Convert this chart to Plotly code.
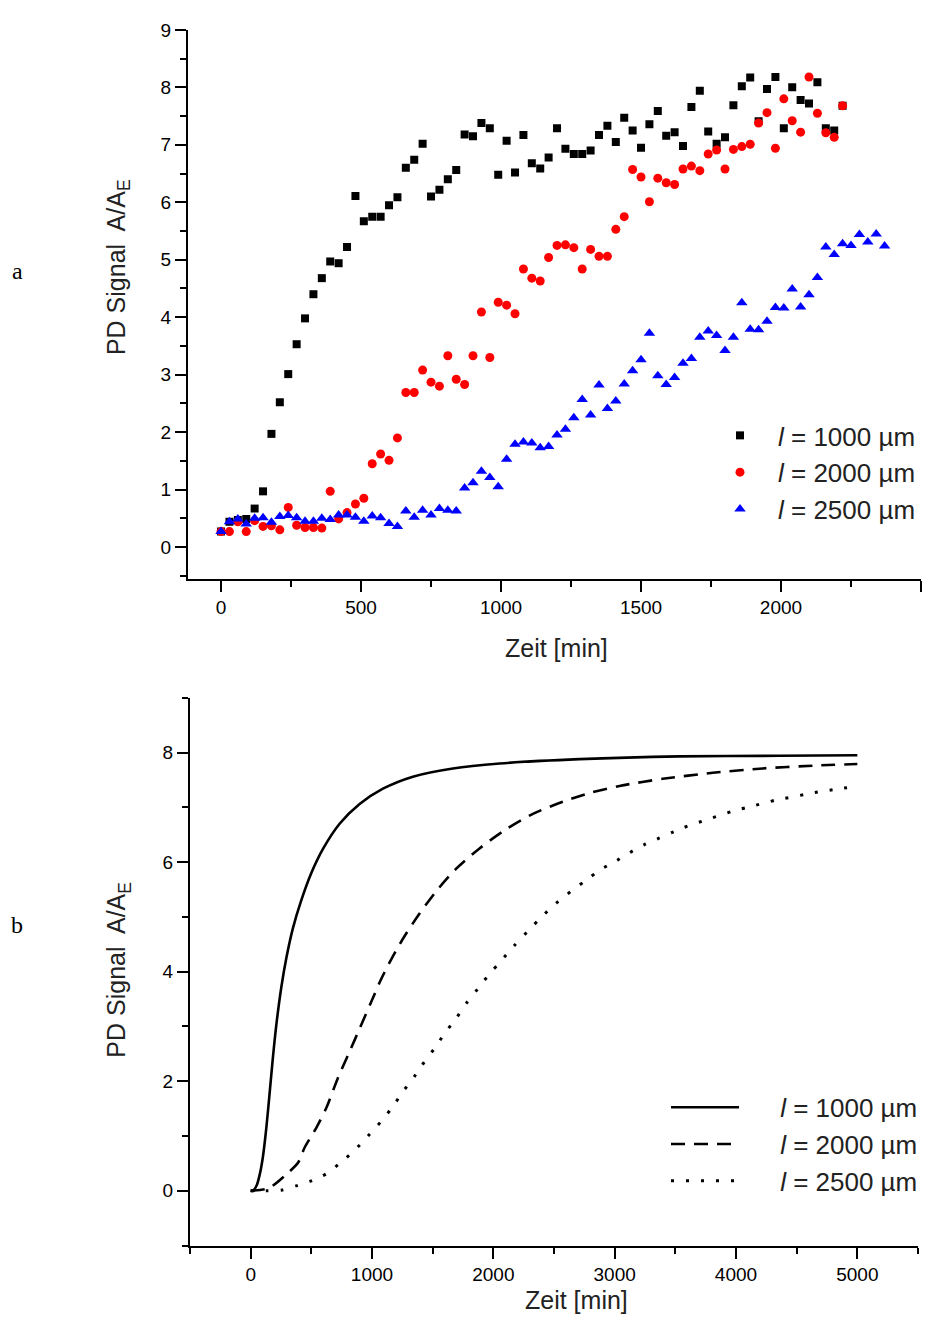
import plotly.graph_objects as go

# ---------------- data: panel a (measured PD signal) ----------------
time_a = [0, 30, 60, 90, 120, 150, 180, 210, 240, 270, 300, 330, 360, 390, 420, 450,
          480, 510, 540, 570, 600, 630, 660, 690, 720, 750, 780, 810, 840, 870, 900, 930,
          960, 990, 1020, 1050, 1080, 1110, 1140, 1170, 1200, 1230, 1260, 1290, 1320, 1350,
          1380, 1410, 1440, 1470, 1500, 1530, 1560, 1590, 1620, 1650, 1680, 1710, 1740,
          1770, 1800, 1830, 1860, 1890, 1920, 1950, 1980, 2010, 2040, 2070, 2100, 2130,
          2160, 2190, 2220, 2250, 2280, 2310, 2340, 2370]

signal_1000 = [0.27, 0.44, 0.47, 0.49, 0.67, 0.97, 1.97, 2.52, 3.01, 3.53, 3.98, 4.40, 4.68,
               4.97, 4.94, 5.22, 6.11, 5.67, 5.75, 5.75, 5.95, 6.09, 6.60, 6.74, 7.02, 6.10,
               6.22, 6.40, 6.56, 7.18, 7.15, 7.38, 7.29, 6.48, 7.07, 6.52, 7.17, 6.68, 6.59,
               6.78, 7.29, 6.93, 6.84, 6.84, 6.90, 7.17, 7.33, 7.05, 7.47, 7.25, 6.95, 7.36,
               7.59, 7.16, 7.22, 6.98, 7.66, 7.94, 7.23, 7.02, 7.13, 7.69, 8.02, 8.17, 7.41,
               7.97, 8.18, 7.29, 8.00, 7.78, 7.72, 8.09, 7.29, 7.25, 7.68]

signal_2000 = [0.27, 0.27, 0.44, 0.27, 0.46, 0.36, 0.37, 0.30, 0.69, 0.38, 0.34, 0.34, 0.33,
               0.97, 0.49, 0.60, 0.75, 0.85, 1.45, 1.62, 1.51, 1.90, 2.69, 2.69, 3.08, 2.87,
               2.80, 3.33, 2.92, 2.83, 3.33, 4.09, 3.30, 4.26, 4.21, 4.06, 4.84, 4.68, 4.63,
               5.04, 5.25, 5.26, 5.21, 4.84, 5.18, 5.06, 5.06, 5.53, 5.75, 6.57, 6.44, 6.01,
               6.42, 6.34, 6.31, 6.58, 6.63, 6.55, 6.84, 6.91, 6.58, 6.92, 6.97, 7.01, 7.38,
               7.56, 6.94, 7.80, 7.42, 7.22, 8.18, 7.55, 7.21, 7.13, 7.68]

signal_2500 = [0.27, 0.44, 0.49, 0.40, 0.50, 0.51, 0.43, 0.53, 0.55, 0.51, 0.45, 0.45, 0.50,
               0.48, 0.56, 0.56, 0.52, 0.45, 0.54, 0.51, 0.41, 0.36, 0.63, 0.52, 0.64, 0.56,
               0.67, 0.64, 0.63, 1.03, 1.12, 1.32, 1.21, 1.05, 1.53, 1.79, 1.83, 1.81, 1.73,
               1.75, 1.95, 2.05, 2.25, 2.57, 2.30, 2.82, 2.41, 2.54, 2.84, 3.07, 3.26, 3.72,
               2.98, 2.83, 2.95, 3.20, 3.28, 3.65, 3.76, 3.68, 3.42, 3.65, 4.25, 3.79, 3.78,
               3.93, 4.17, 4.16, 4.49, 4.18, 4.39, 4.69, 5.22, 5.09, 5.28, 5.25, 5.44, 5.31,
               5.45, 5.24]

# ---------------- data: panel b (model curves) ----------------
time_b_1000 = [0, 19, 50, 80, 101, 129, 157, 184, 211, 253, 294, 349, 417, 500, 596, 733,
               898, 1090, 1337, 1667, 2051, 2710, 3534, 4357, 5000]
model_1000 = [0.0, 0.0, 0.10, 0.35, 0.62, 1.15, 1.80, 2.45, 3.02, 3.72, 4.25, 4.80, 5.30,
              5.80, 6.24, 6.70, 7.06, 7.34, 7.56, 7.71, 7.80, 7.88, 7.93, 7.94, 7.95]

time_b_2000 = [0, 150, 294, 390, 445, 541, 623, 719, 815, 898, 994, 1077, 1172, 1269, 1392,
               1530, 1694, 1886, 2106, 2326, 2572, 2792, 3040, 3396, 3808, 4220, 4632, 5000]
model_2000 = [0.0, 0.05, 0.30, 0.51, 0.79, 1.15, 1.51, 2.06, 2.54, 2.96, 3.45, 3.87, 4.28,
              4.65, 5.06, 5.47, 5.88, 6.25, 6.60, 6.88, 7.10, 7.26, 7.39, 7.52, 7.63, 7.71,
              7.76, 7.79]

time_b_2500 = [0, 129, 253, 376, 500, 623, 733, 857, 967, 1077, 1172, 1255, 1351, 1433,
               1516, 1598, 1694, 1777, 1873, 1969, 2065, 2175, 2285, 2394, 2518, 2642, 2765,
               2889, 3012, 3122, 3245, 3369, 3493, 3616, 3726, 3849, 3973, 4096, 4220, 4344,
               4467, 4577, 4701, 4825, 4948]
model_2500 = [0.0, 0.0, 0.01, 0.09, 0.18, 0.31, 0.50, 0.74, 1.00, 1.27, 1.54, 1.81, 2.09,
              2.36, 2.60, 2.87, 3.15, 3.42, 3.69, 3.96, 4.20, 4.48, 4.74, 4.99, 5.25, 5.47,
              5.67, 5.87, 6.02, 6.17, 6.32, 6.44, 6.56, 6.67, 6.75, 6.84, 6.93, 7.00, 7.07,
              7.14, 7.19, 7.24, 7.29, 7.33, 7.37]

series_names = ["<i>l</i> = 1000 µm", "<i>l</i> = 2000 µm", "<i>l</i> = 2500 µm"]

FONT = "Liberation Sans, Arial, sans-serif"
SERIF = "Liberation Serif, Times New Roman, serif"
TEXT_COLOR = "#222222"

# the html body adds an 8px margin round the figure
PAGE_W, PAGE_H = 949, 1324
OFF_L, OFF_T, OFF_B = 8, 8, 8
W, H = PAGE_W - 2 * OFF_L, PAGE_H - OFF_T - OFF_B


def px_x(p):
    return (p - OFF_L) / W


def px_y(p):
    return 1 - (p - OFF_T) / H


fig = go.Figure()

# panel a
fig.add_trace(go.Scatter(x=time_a[:len(signal_1000)], y=signal_1000, mode="markers",
                         name=series_names[0], legendgroup="a1",
                         marker=dict(symbol="square", size=8, color="black"),
                         xaxis="x", yaxis="y", legend="legend"))
fig.add_trace(go.Scatter(x=time_a[:len(signal_2000)], y=signal_2000, mode="markers",
                         name=series_names[1], legendgroup="a2",
                         marker=dict(symbol="circle", size=9, color="#ff0000"),
                         xaxis="x", yaxis="y", legend="legend"))
fig.add_trace(go.Scatter(x=time_a[:len(signal_2500)], y=signal_2500, mode="markers",
                         name=series_names[2], legendgroup="a3",
                         marker=dict(symbol="triangle-up", size=10, color="#0000ff"),
                         xaxis="x", yaxis="y", legend="legend"))

# panel b
pad = "\u00a0" * 5
fig.add_trace(go.Scatter(x=time_b_1000, y=model_1000, mode="lines", name=pad + series_names[0],
                         legendgroup="b1",
                         line=dict(color="black", width=2.6, shape="spline", smoothing=0.8),
                         xaxis="x2", yaxis="y2", legend="legend2"))
fig.add_trace(go.Scatter(x=time_b_2000, y=model_2000, mode="lines", name=pad + series_names[1],
                         legendgroup="b2",
                         line=dict(color="black", width=2.6, dash="14px,9px", shape="spline",
                                   smoothing=0.8),
                         xaxis="x2", yaxis="y2", legend="legend2"))
fig.add_trace(go.Scatter(x=time_b_2500, y=model_2500, mode="lines", name=pad + series_names[2],
                         legendgroup="b3",
                         line=dict(color="black", width=3, dash="3px,12px", shape="spline",
                                   smoothing=0.8),
                         xaxis="x2", yaxis="y2", legend="legend2"))

axis_common = dict(showline=True, linecolor="black", linewidth=2, showgrid=False,
                   zeroline=False, ticks="outside", ticklen=11, tickwidth=2,
                   tickcolor="black", tickfont=dict(family=FONT, size=19, color="black"),
                   mirror=False)


def minor(step):
    return dict(dtick=step, ticks="outside", ticklen=6, tickwidth=2,
                tickcolor="black", showgrid=False)


fig.update_layout(
    width=W, height=H,
    margin=dict(l=0, r=0, t=0, b=0),
    paper_bgcolor="white", plot_bgcolor="white",
    font=dict(family=FONT, color="black"),
    xaxis=dict(domain=[px_x(188), px_x(921)], anchor="y", range=[-118, 2500],
               tick0=0, dtick=500, minor=minor(250), **axis_common),
    yaxis=dict(domain=[px_y(573), px_y(20)], anchor="x", range=[-0.55, 9],
               tick0=0, dtick=1, minor=minor(0.5), **axis_common),
    xaxis2=dict(domain=[px_x(190), px_x(918)], anchor="y2", range=[-500, 5500],
                tick0=0, dtick=1000, minor=minor(500), **axis_common),
    yaxis2=dict(domain=[px_y(1245), px_y(693)], anchor="x2", range=[-1, 9],
                tick0=0, dtick=2, minor=minor(1), **axis_common),
    legend=dict(x=px_x(702), y=px_y(405), xanchor="left", yanchor="top",
                font=dict(family=FONT, size=26, color=TEXT_COLOR),
                bgcolor="rgba(0,0,0,0)", borderwidth=0, itemwidth=66,
                tracegroupgap=6, traceorder="normal"),
    legend2=dict(x=px_x(666), y=px_y(1082), xanchor="left", yanchor="top",
                 font=dict(family=FONT, size=26, color=TEXT_COLOR),
                 bgcolor="rgba(0,0,0,0)", borderwidth=0, itemwidth=68,
                 tracegroupgap=6, traceorder="normal"),
    showlegend=True,
)

annotations = [
    dict(text="PD Signal\u2002A/A<sub>E</sub>", x=px_x(118), y=px_y(259), textangle=-90,
         font=dict(family=FONT, size=25, color=TEXT_COLOR)),
    dict(text="PD Signal\u2002A/A<sub>E</sub>", x=px_x(118), y=px_y(967), textangle=-90,
         font=dict(family=FONT, size=25, color=TEXT_COLOR)),
    dict(text="Zeit [min]", x=px_x(556), y=px_y(643),
         font=dict(family=FONT, size=25, color=TEXT_COLOR)),
    dict(text="Zeit [min]", x=px_x(576), y=px_y(1300),
         font=dict(family=FONT, size=25, color=TEXT_COLOR)),
    dict(text="a", x=px_x(17), y=px_y(263), font=dict(family=SERIF, size=24, color="black")),
    dict(text="b", x=px_x(17), y=px_y(922), font=dict(family=SERIF, size=24, color="black")),
]
for a in annotations:
    a.update(xref="paper", yref="paper", showarrow=False, xanchor="center", yanchor="middle")
fig.update_layout(annotations=annotations)

fig.write_html("out.html")
